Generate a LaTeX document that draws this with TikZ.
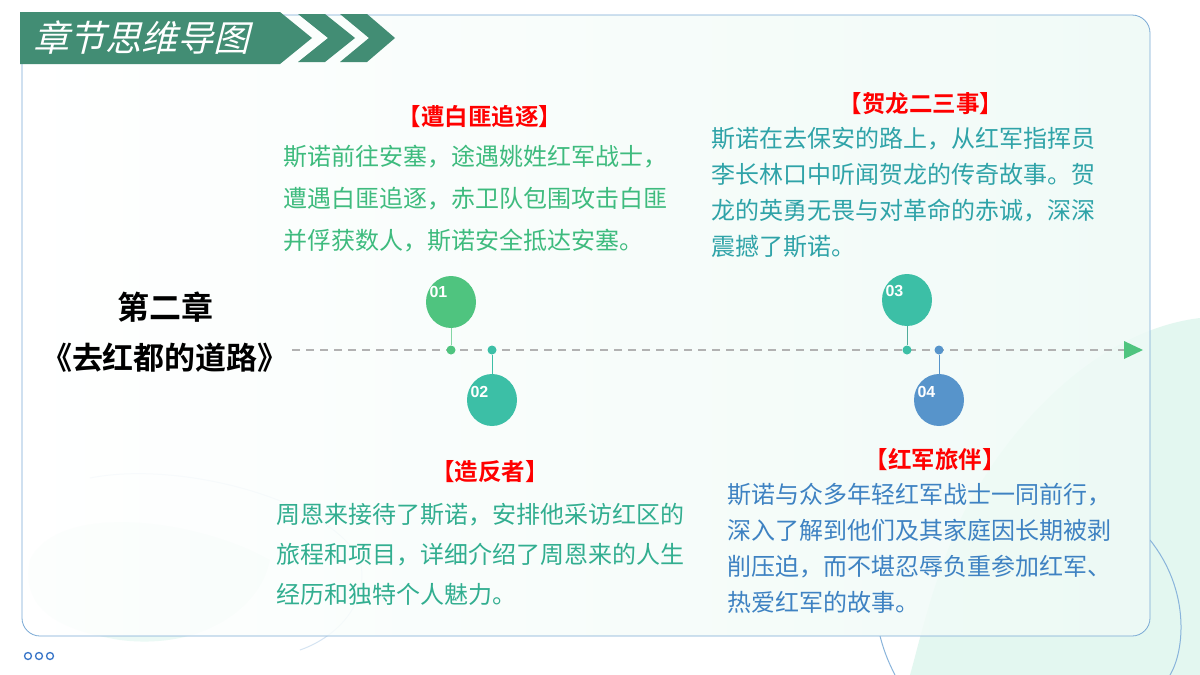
\documentclass[tikz,border=0pt]{standalone}
\usepackage{fontspec}
\setmainfont{Noto Sans CJK SC}
\newfontfamily\cjkb{Noto Sans CJK SC Bold}
\newfontfamily\numf{Liberation Sans Bold}
\usetikzlibrary{shapes.geometric}
\definecolor{bannerg}{HTML}{428D74}
\definecolor{cA}{HTML}{4FC47F}
\definecolor{cB}{HTML}{3CBFA6}
\definecolor{cD}{HTML}{5794CB}
\definecolor{tA}{HTML}{3EBB7E}
\definecolor{tB}{HTML}{32AE90}
\definecolor{tC}{HTML}{2FA3A8}
\definecolor{tD}{HTML}{3E82C2}
\definecolor{mint}{HTML}{E3F7F0}
\tikzset{x=1pt,y=-1pt,
 bubble/.style={ellipse,minimum width=50pt,minimum height=52pt,inner sep=0},
 dot/.style={circle,minimum size=9pt,inner sep=0},
 num/.style={font=\numf\fontsize{16}{16}\selectfont,text=white},
 head/.style={font=\cjkb\fontsize{23.5}{24}\selectfont,text=red},
 body/.style={font=\fontsize{24}{42}\selectfont,align=left,anchor=north west,inner sep=0}}
\begin{document}
\begin{tikzpicture}
\useasboundingbox (0,0) rectangle (1200,675);
\fill[white] (0,0) rectangle (1200,675);
% background decorations
\fill[mint] (1200,318) .. controls (1100,330) and (1010,420) .. (960,520) .. controls (930,590) and (920,640) .. (910,675) -- (1200,675) -- cycle;
\draw[cD!70,line width=1pt] (1150,540) .. controls (1190,590) and (1185,650) .. (1170,675);
\draw[cD!70,line width=1pt] (880,636) .. controls (885,655) and (890,665) .. (895,675);
\fill[mint!70] (30,560) .. controls (60,500) and (200,520) .. (270,560) .. controls (260,610) and (200,650) .. (120,640) .. controls (60,630) and (20,610) .. (30,560) -- cycle;
\draw[cD!25,line width=1pt] (90,478) .. controls (180,460) and (330,500) .. (360,560) .. controls (370,600) and (340,636) .. (300,650);
% card
\shade[left color=white, right color=mint!60, rounded corners=18pt,opacity=0.85] (22,15) rectangle (1150,636);
\draw[cD!80,line width=0.8pt,rounded corners=18pt] (22,15) rectangle (1150,636);
% banner
\fill[bannerg] (20,12) -- (280,12) -- (312,38) -- (280,64) -- (20,64) -- cycle;
\fill[bannerg] (298,14) -- (325,14) -- (355,38) -- (325,62) -- (298,62) -- (328,38) -- cycle;
\fill[bannerg] (340,14) -- (367,14) -- (395,38) -- (367,62) -- (340,62) -- (369,38) -- cycle;
\node[font=\fontsize{36}{36}\selectfont,text=white,xslant=0.25] (ttl) at (145,38) {章节思维导图};
% dots
\foreach \i in {0,1,2} \draw[tD!90!blue,line width=1.3pt] (28+\i*11,656) circle (3.5pt);
% chapter title
\node[font=\cjkb\fontsize{32}{32}\selectfont] (ch) at (165,307) {第二章};
\node[font=\cjkb\fontsize{31}{31}\selectfont] (bk) at (165,358) {《去红都的道路》};
% timeline
\coordinate (ls) at (292,350);
\coordinate (le) at (1124,350);
\draw[gray!60,dashed,dash pattern=on 8pt off 6pt,line width=1.8pt] (ls) -- (le);
\fill[cA] (1124,341) -- (1143,350) -- (1124,359) -- cycle;
% bubbles
\node[dot,fill=cA] (d1) at (451,350) {};
\node[bubble,fill=cA] (b1) at (451,302) {};
\draw[cA!70,line width=1pt] (b1) -- (d1);
\node[num,anchor=west] (n1) at (426,292) {01};
\node[dot,fill=cB] (d2) at (492,350) {};
\node[bubble,fill=cB] (b2) at (492,400) {};
\draw[cB,line width=1pt] (d2) -- (b2);
\node[num,anchor=west] (n2) at (467,392) {02};
\node[dot,fill=cB] (d3) at (907,350) {};
\node[bubble,fill=cB] (b3) at (907,300) {};
\draw[cB!70!gray,line width=1pt] (b3) -- (d3);
\node[num,anchor=west] (n3) at (882,291) {03};
\node[dot,fill=cD] (d4) at (939,350) {};
\node[bubble,fill=cD] (b4) at (939,400) {};
\draw[cD,line width=1pt] (d4) -- (b4);
\node[num,anchor=west] (n4) at (914,392) {04};
% texts
\node[head] (h1) at (480,116) {【遭白匪追逐】};
\node[body,text=tA] (t1) at (283,145) {斯诺前往安塞，途遇姚姓红军战士，\\遭遇白匪追逐，赤卫队包围攻击白匪\\并俘获数人，斯诺安全抵达安塞。};
\node[head] (h3) at (921,104) {【贺龙二三事】};
\node[body,text=tC,font=\fontsize{24}{36}\selectfont] (t3) at (711,127) {斯诺在去保安的路上，从红军指挥员\\李长林口中听闻贺龙的传奇故事。贺\\龙的英勇无畏与对革命的赤诚，深深\\震撼了斯诺。};
\node[head] (h2) at (490,472) {【造反者】};
\node[body,text=tB,font=\fontsize{24}{40}\selectfont] (t2) at (276,503) {周恩来接待了斯诺，安排他采访红区的\\旅程和项目，详细介绍了周恩来的人生\\经历和独特个人魅力。};
\node[head] (h4) at (935,460) {【红军旅伴】};
\node[body,text=tD,font=\fontsize{24}{36}\selectfont] (t4) at (727,483) {斯诺与众多年轻红军战士一同前行，\\深入了解到他们及其家庭因长期被剥\\削压迫，而不堪忍辱负重参加红军、\\热爱红军的故事。};
\end{tikzpicture}
\end{document}
